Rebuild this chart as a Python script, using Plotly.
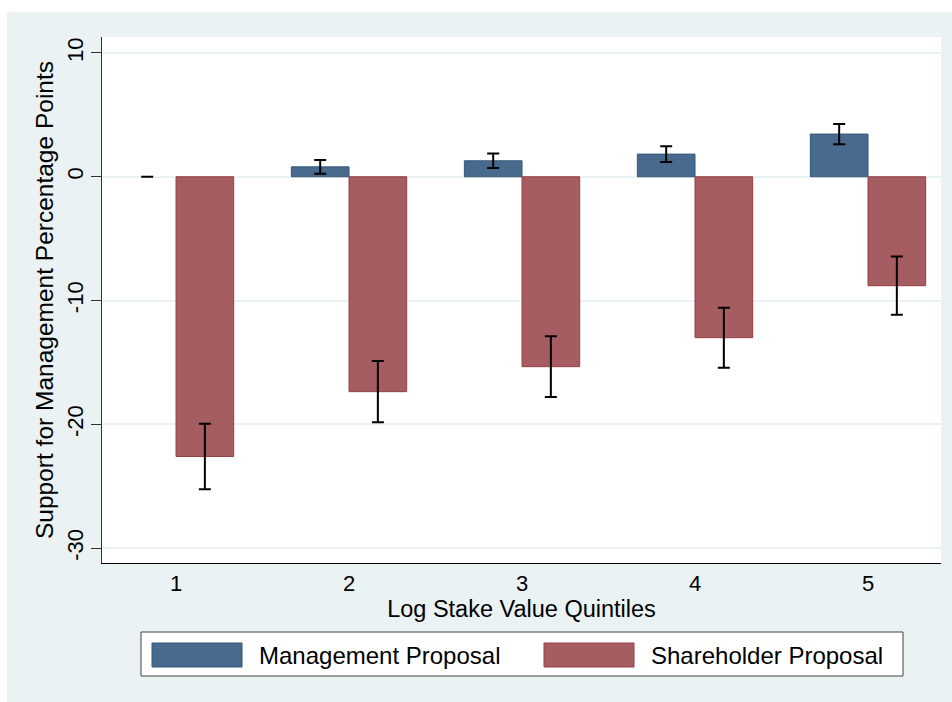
import plotly.graph_objects as go

# Quintile categories and estimated effects (percentage points)
quintiles = [1, 2, 3, 4, 5]
management = [0.0, 0.8, 1.29, 1.83, 3.45]
management_ci = [0.0, 0.55, 0.58, 0.63, 0.82]
shareholder = [-22.6, -17.36, -15.34, -13.0, -8.8]
shareholder_ci = [2.65, 2.47, 2.45, 2.42, 2.35]
y_ticks = [-30, -20, -10, 0, 10]
y_tick_labels = ["-30", "-20", "-10", "0", "10"]
series_names = ["Management Proposal", "Shareholder Proposal"]

W, H = 952, 702
ML, MR, MT, MB = 102, 11, 37, 139
PW, PH = W - ML - MR, H - MT - MB

FONT = "Liberation Sans, Arial, sans-serif"
BG = "#EAF2F3"
BLUE, BLUE_LINE = "#486B8D", "#34577A"
RED, RED_LINE = "#A55D62", "#953E44"


def px_x(x):
    return (x - ML) / PW


def px_y(y):
    return (H - MB - y) / PH


def outline_widths(values):
    # no outline on zero-height bars so only the error cap shows
    return [0 if v == 0 else 1 for v in values]


fig = go.Figure()
fig.add_trace(go.Bar(
    x=quintiles, y=management, name=series_names[0],
    marker=dict(color=BLUE, line=dict(color=BLUE_LINE,
                                      width=outline_widths(management))),
    error_y=dict(type="data", array=management_ci, color="black",
                 thickness=2, width=6),
    showlegend=False,
))
fig.add_trace(go.Bar(
    x=quintiles, y=shareholder, name=series_names[1],
    marker=dict(color=RED, line=dict(color=RED_LINE,
                                     width=outline_widths(shareholder))),
    error_y=dict(type="data", array=shareholder_ci, color="black",
                 thickness=2, width=6),
    showlegend=False,
))

shapes = [
    # white outer margin strips around the graph region
    dict(type="rect", xref="paper", yref="paper", layer="below",
         x0=px_x(0), x1=px_x(W), y0=px_y(12), y1=px_y(0),
         fillcolor="white", line=dict(width=0)),
    dict(type="rect", xref="paper", yref="paper", layer="below",
         x0=px_x(0), x1=px_x(7), y0=px_y(H), y1=px_y(0),
         fillcolor="white", line=dict(width=0)),
    # legend box
    dict(type="rect", xref="paper", yref="paper",
         x0=px_x(141), x1=px_x(903), y0=px_y(676), y1=px_y(632),
         fillcolor="white", line=dict(color="#404040", width=1)),
    dict(type="rect", xref="paper", yref="paper",
         x0=px_x(152), x1=px_x(242), y0=px_y(667), y1=px_y(643),
         fillcolor=BLUE, line=dict(color=BLUE_LINE, width=1)),
    dict(type="rect", xref="paper", yref="paper",
         x0=px_x(544), x1=px_x(634), y0=px_y(667), y1=px_y(643),
         fillcolor=RED, line=dict(color=RED_LINE, width=1)),
]

annotations = [
    dict(text=series_names[0], xref="paper", yref="paper",
         x=px_x(257), y=px_y(655), xanchor="left", yanchor="middle",
         showarrow=False, font=dict(family=FONT, size=24, color="black")),
    dict(text=series_names[1], xref="paper", yref="paper",
         x=px_x(649), y=px_y(655), xanchor="left", yanchor="middle",
         showarrow=False, font=dict(family=FONT, size=24, color="black")),
]

fig.update_layout(
    width=W, height=H, autosize=False,
    margin=dict(l=ML, r=MR, t=MT, b=MB, pad=0),
    paper_bgcolor=BG, plot_bgcolor="white",
    barmode="group", bargap=1 / 3, bargroupgap=0,
    font=dict(family=FONT, size=22, color="black"),
    shapes=shapes, annotations=annotations,
    showlegend=False,
)

fig.update_xaxes(
    range=[0.572, 5.422], tickmode="array", tickvals=quintiles,
    ticktext=[str(q) for q in quintiles], ticks="", showgrid=False,
    zeroline=False, showline=True, linecolor="black", linewidth=1,
    tickfont=dict(size=22), ticklabelstandoff=1,
    title=dict(text="Log Stake Value Quintiles", font=dict(size=23.5), standoff=0),
)
fig.update_yaxes(
    range=[-31.2, 11.29], tickmode="array", tickvals=y_ticks,
    ticktext=y_tick_labels,
    ticks="outside", ticklen=10, tickcolor="#333333", tickwidth=1,
    tickangle=-90, tickfont=dict(size=22), ticklabelstandoff=-1,
    showgrid=True, gridcolor=BG, gridwidth=2,
    zeroline=True, zerolinecolor=BG, zerolinewidth=2,
    showline=True, linecolor="#333333", linewidth=1,
    title=dict(text="Support for Management Percentage Points",
               font=dict(size=24.5), standoff=2),
)

fig.write_html("out.html")
